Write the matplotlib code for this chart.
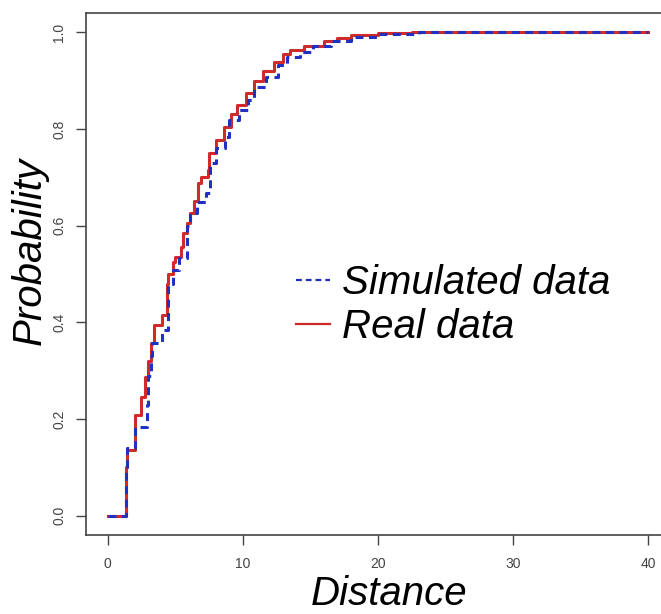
import matplotlib
matplotlib.use("Agg")
import matplotlib.pyplot as plt

# ECDF jump points: (distance, cumulative probability)
real_x = [1.35, 1.42, 2.0, 2.44, 2.8, 3.0, 3.2, 3.4, 4.0, 4.36, 4.5, 4.8, 5.0,
          5.4, 5.55, 5.9, 6.1, 6.4, 6.65, 6.9, 7.4, 7.5, 8.0, 8.6, 9.1, 9.6,
          10.2, 10.8, 11.5, 12.3, 13.0, 13.5, 14.5, 16.0, 17.0, 18.0, 20.0, 22.5]
real_y = [0.10, 0.136, 0.209, 0.246, 0.287, 0.32, 0.357, 0.395, 0.415, 0.48,
          0.50, 0.525, 0.535, 0.555, 0.585, 0.605, 0.626, 0.652, 0.688, 0.70,
          0.715, 0.75, 0.777, 0.804, 0.832, 0.849, 0.874, 0.90, 0.921, 0.938,
          0.956, 0.963, 0.972, 0.982, 0.988, 0.994, 0.998, 1.0]

sim_x = [1.35, 1.42, 2.0, 2.9, 3.0, 3.2, 3.3, 4.05, 4.45, 4.8, 5.25, 5.9, 6.1,
         6.6, 7.25, 7.6, 8.0, 8.7, 8.95, 9.7, 10.4, 10.8, 11.7, 12.6, 13.3,
         14.2, 15.2, 16.5, 18.0, 20.0, 23.0]
sim_y = [0.10, 0.14, 0.184, 0.23, 0.29, 0.33, 0.357, 0.384, 0.48, 0.508, 0.533,
         0.60, 0.626, 0.649, 0.667, 0.73, 0.76, 0.783, 0.818, 0.839, 0.86,
         0.886, 0.907, 0.932, 0.948, 0.96, 0.972, 0.983, 0.99, 0.996, 1.0]

x_start, x_end = 0, 40
x_ticks = [0, 10, 20, 30, 40]
y_ticks = [0.0, 0.2, 0.4, 0.6, 0.8, 1.0]

red = "#cf2b2b"
blue = "#2030c0"
plt.rcParams["font.family"] = ["Liberation Sans", "DejaVu Sans"]

fig = plt.figure(figsize=(6.61, 6.14), dpi=100)
# plot box runs past the right edge of the picture, as in the original
ax = fig.add_axes([86 / 661, 79 / 614, 584 / 661, 522 / 614])

ax.step([x_start] + real_x + [x_end], [0] + real_y + [real_y[-1]], where="post",
        color=red, lw=2.2, label="Real data", zorder=2)
ax.step([x_start] + sim_x + [x_end], [0] + sim_y + [sim_y[-1]], where="post",
        color=blue, lw=2.2, ls=(0, (2.6, 1.8)), label="Simulated data", zorder=3)

ax.set_xlim(-1.6, 41.6)
ax.set_ylim(-0.04, 1.04)
ax.set_xticks(x_ticks)
ax.set_yticks(y_ticks)
ax.set_xticklabels([str(t) for t in x_ticks])
ax.set_yticklabels([f"{t:.1f}" for t in y_ticks], rotation=90, va="center")

for side in ax.spines.values():
    side.set_color("#444444")
    side.set_linewidth(1.2)
ax.spines["right"].set_visible(False)
ax.tick_params(direction="out", length=7.2, width=1.0, color="#444444",
               labelsize=10, labelcolor="#444444")
ax.tick_params(axis="x", pad=9)
ax.tick_params(axis="y", pad=7)

ax.set_xlabel("Distance", fontsize=29, style="italic")
ax.xaxis.set_label_coords(0.519, -0.077)
ax.set_ylabel("Probability", fontsize=29, style="italic", va="center")
ax.yaxis.set_label_coords(-0.096, 0.544)

handles, labels = ax.get_legend_handles_labels()
leg = ax.legend(handles[::-1], labels[::-1], frameon=False, loc="center left",
                bbox_to_anchor=(296 / 661, 0.503), bbox_transform=fig.transFigure,
                borderpad=0, borderaxespad=0, handlelength=0.85, handletextpad=0.3,
                labelspacing=0.15, prop={"size": 29, "style": "italic"})
for line in leg.get_lines():
    line.set_linewidth(1.6)

fig.savefig("out.png", dpi=100)
